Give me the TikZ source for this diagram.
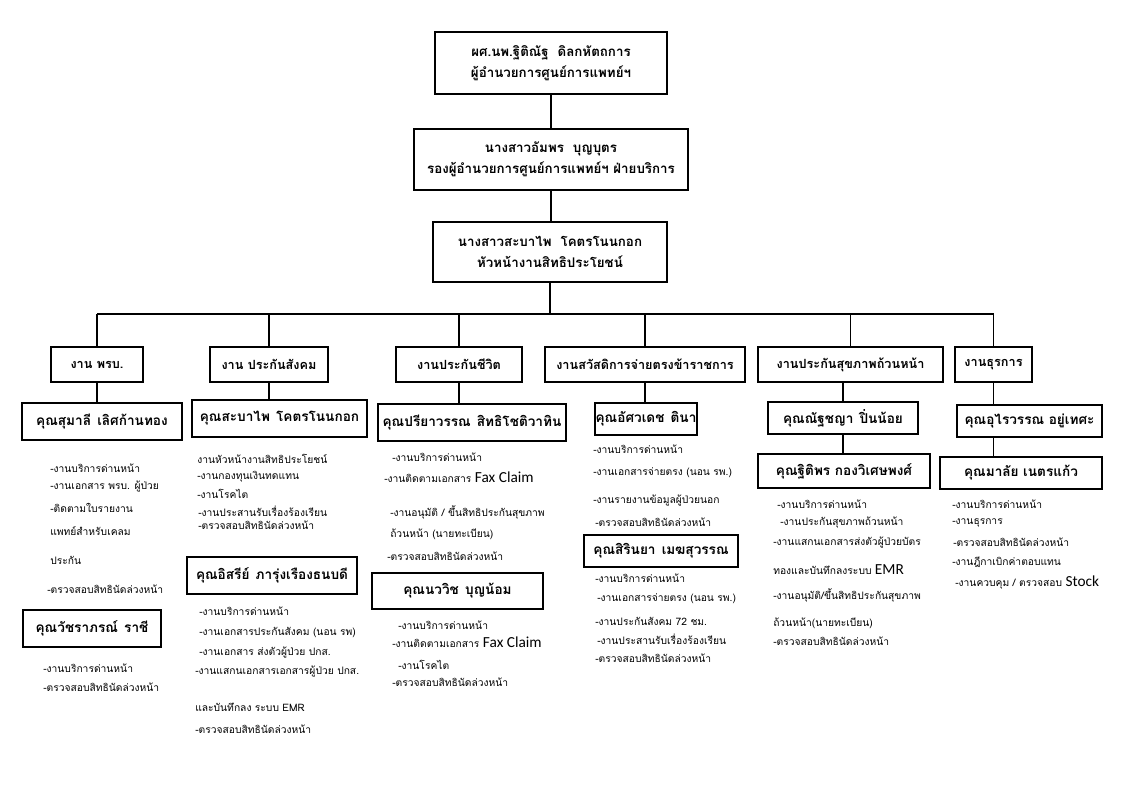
\documentclass[tikz,border=0pt]{standalone}
\usepackage{fontspec}
\newfontfamily\thai[Script=Thai]{Loma}
\newfontfamily\carl{Carlito}
\tikzset{
  box/.style={draw, line width=0.9pt, inner sep=0pt, align=center, font=\thai\bfseries\fontsize{10}{16}\selectfont},
  pbox/.style={box, font=\thai\bfseries\fontsize{10.2}{12}\selectfont},
  deptbox/.style={box, font=\thai\bfseries\fontsize{9.5}{12}\selectfont},
  txt/.style={anchor=west, inner sep=0pt, font=\thai\fontsize{7.7}{9}\selectfont},
  conn/.style={line width=0.8pt}
}
\newcommand\lat[1]{{\carl\fontsize{11.5}{12}\selectfont #1}}
\newcommand\gap{\hspace{0.45em}}
\newcommand\bx[7]{%
  \pgfmathsetmacro\bxw{(#5-#3)*0.75}\pgfmathsetmacro\bxh{(#6-#4)*0.75}%
  \node[#1, minimum width=\bxw pt, minimum height=\bxh pt] (#2) at ({(#3+#5)/2},{(#4+#6)/2}) {#7};}
\newcommand\tx[4]{\node[txt] (#1) at (#2,#3) {#4};}
\begin{document}
\begin{tikzpicture}[x=0.75pt,y=-0.75pt]
\useasboundingbox (0,0) rectangle (1123,794);
\fill[white] (0,0) rectangle (1123,794);
% top chain
\bx{box}{top}{435}{32}{667}{94}{ผศ.นพ.ฐิติณัฐ\ \ ดิลกหัตถการ\\ผู้อำนวยการศูนย์การแพทย์ฯ}
\bx{box}{vice}{414}{129}{688}{190}{นางสาวอัมพร\ \ บุญบุตร\\รองผู้อำนวยการศูนย์การแพทย์ฯ ฝ่ายบริการ}
\bx{box}{head}{433}{222}{667}{282}{นางสาวสะบาไพ\ \ โคตรโนนกอก\\หัวหน้างานสิทธิประโยชน์}
% departments
\bx{deptbox}{d1}{51}{347}{143}{382}{งาน พรบ.}
\bx{deptbox}{d2}{210}{347}{328}{382}{งาน ประกันสังคม}
\bx{deptbox}{d3}{396}{347}{522}{382}{งานประกันชีวิต}
\bx{deptbox}{d4}{545}{347}{745}{382}{งานสวัสดิการจ่ายตรงข้าราชการ}
\bx{deptbox}{d5}{758}{347}{943}{382}{งานประกันสุขภาพถ้วนหน้า}
\bx{deptbox}{d6}{955}{347}{1032}{382}{งานธุรการ}
% persons
\bx{pbox}{p1}{22}{403}{182}{440}{คุณสุมาลี\gap เลิศก้านทอง}
\bx{pbox}{p2}{192}{400}{367}{437}{คุณสะบาไพ\gap โคตรโนนกอก}
\bx{pbox}{p3}{378}{404}{566}{441}{คุณปรียาวรรณ\gap สิทธิโชติวาทิน}
\bx{pbox}{p4}{595}{403}{697}{435}{คุณอัศวเดช\gap ตินา}
\bx{pbox}{p5}{768}{402}{918}{434}{คุณณัฐชญา\gap ปิ่นน้อย}
\bx{pbox}{p6}{957}{405}{1102}{437}{คุณอุไรวรรณ อยู่เทศะ}
\bx{pbox}{q1}{23}{610}{161}{647}{คุณวัชราภรณ์\gap ราชี}
\bx{pbox}{q2}{187}{557}{357}{594}{คุณอิสรีย์\gap ภารุ่งเรืองธนบดี}
\bx{pbox}{q3}{372}{573}{543}{609}{คุณนววิช\gap บุญน้อม}
\bx{pbox}{q4}{584}{535}{738}{567}{คุณสิรินยา\gap เมฆสุวรรณ}
\bx{pbox}{q5}{758}{454}{930}{488}{คุณฐิติพร กองวิเศษพงศ์}
\bx{pbox}{q6}{940}{457}{1102}{489}{คุณมาลัย เนตรแก้ว}
% connectors
\coordinate (bus) at (550,314);
\draw[conn] (top.south) -- (top.south |- vice.north);
\draw[conn] (vice.south) -- (vice.south |- head.north);
\draw[conn] (head.south) -- (head.south |- bus);
\draw[conn] (d1.north |- bus) -- (d6.north |- bus);
\foreach \i in {1,...,6}{\draw[conn] (d\i.north) -- (d\i.north |- bus);}
\draw[conn] (d1.south) -- (d1.south |- p1.north);
\draw[conn] (d2.south) -- (d2.south |- p2.north);
\draw[conn] (d3.south) -- (d3.south |- p3.north);
\draw[conn] (d4.south) -- (d4.south |- p4.north);
\draw[conn] (p5.north) -- (p5.north |- d5.south);
\draw[conn] (p5.south) -- (p5.south |- q5.north);
\draw[conn] (d6.south) -- (d6.south |- p6.north);
\draw[conn] (d6.south |- p6.south) -- (d6.south |- q6.north);
% column 1
\tx{a1}{50}{468}{-งานบริการด่านหน้า}
\tx{a2}{50}{487}{-งานเอกสาร พรบ. ผู้ป่วย}
\tx{a3}{50}{508}{-ติดตามใบรายงาน}
\tx{a4}{50}{531}{แพทย์สำหรับเคลม}
\tx{a5}{50}{560}{ประกัน}
\tx{a6}{47}{589}{-ตรวจสอบสิทธินัดล่วงหน้า}
\tx{a7}{43}{668}{-งานบริการด่านหน้า}
\tx{a8}{43}{687}{-ตรวจสอบสิทธินัดล่วงหน้า}
% column 2
\tx{b1}{197}{459}{งานหัวหน้างานสิทธิประโยชน์}
\tx{b2}{197}{477}{-งานกองทุนเงินทดแทน}
\tx{b3}{197}{494}{-งานโรคไต}
\tx{b4}{198}{511}{-งานประสานรับเรื่องร้องเรียน}
\tx{b5}{198}{525}{-ตรวจสอบสิทธินัดล่วงหน้า}
\tx{b6}{199}{611}{-งานบริการด่านหน้า}
\tx{b7}{199}{632}{-งานเอกสารประกันสังคม (นอน รพ)}
\tx{b8}{199}{653}{-งานเอกสาร ส่งตัวผู้ป่วย ปกส.}
\tx{b9}{195}{672}{-งานแสกนเอกสารเอกสารผู้ป่วย ปกส.}
\tx{b10}{195}{707}{และบันทึกลง ระบบ EMR}
\tx{b11}{195}{729}{-ตรวจสอบสิทธินัดล่วงหน้า}
% column 3
\tx{c1}{392}{457}{-งานบริการด่านหน้า}
\tx{c2}{384}{477}{-งานติดตามเอกสาร \lat{Fax Claim}}
\tx{c3}{390}{512}{-งานอนุมัติ / ขึ้นสิทธิประกันสุขภาพ}
\tx{c4}{390}{534}{ถ้วนหน้า (นายทะเบียน)}
\tx{c5}{387}{556}{-ตรวจสอบสิทธินัดล่วงหน้า}
\tx{c6}{398}{625}{-งานบริการด่านหน้า}
\tx{c7}{392}{642}{-งานติดตามเอกสาร \lat{Fax Claim}}
\tx{c8}{398}{665}{-งานโรคไต}
\tx{c9}{392}{682}{-ตรวจสอบสิทธินัดล่วงหน้า}
% column 4
\tx{e1}{593}{449}{-งานบริการด่านหน้า}
\tx{e2}{593}{473}{-งานเอกสารจ่ายตรง (นอน รพ.)}
\tx{e3}{593}{501}{-งานรายงานข้อมูลผู้ป่วยนอก}
\tx{e4}{595}{522}{-ตรวจสอบสิทธินัดล่วงหน้า}
\tx{e5}{595}{578}{-งานบริการด่านหน้า}
\tx{e6}{597}{599}{-งานเอกสารจ่ายตรง (นอน รพ.)}
\tx{e7}{595}{621}{-งานประกันสังคม 72 ชม.}
\tx{e8}{597}{639}{-งานประสานรับเรื่องร้องเรียน}
\tx{e9}{595}{658}{-ตรวจสอบสิทธินัดล่วงหน้า}
% column 5
\tx{f1}{777}{504}{-งานบริการด่านหน้า}
\tx{f2}{780}{523}{-งานประกันสุขภาพถ้วนหน้า}
\tx{f3}{773}{543}{-งานแสกนเอกสารส่งตัวผู้ป่วยบัตร}
\tx{f4}{773}{570}{ทองและบันทึกลงระบบ \lat{EMR}}
\tx{f5}{773}{595}{-งานอนุมัติ/ขึ้นสิทธิประกันสุขภาพ}
\tx{f6}{773}{623}{ถ้วนหน้า(นายทะเบียน)}
\tx{f7}{773}{641}{-ตรวจสอบสิทธินัดล่วงหน้า}
% column 6
\tx{g1}{952}{504}{-งานบริการด่านหน้า}
\tx{g2}{952}{523}{-งานธุรการ}
\tx{g3}{953}{542}{-ตรวจสอบสิทธินัดล่วงหน้า}
\tx{g4}{952}{562}{-งานฎีกาเบิกค่าตอบแทน}
\tx{g5}{955}{582}{-งานควบคุม / ตรวจสอบ \lat{Stock}}
\end{tikzpicture}
\end{document}
